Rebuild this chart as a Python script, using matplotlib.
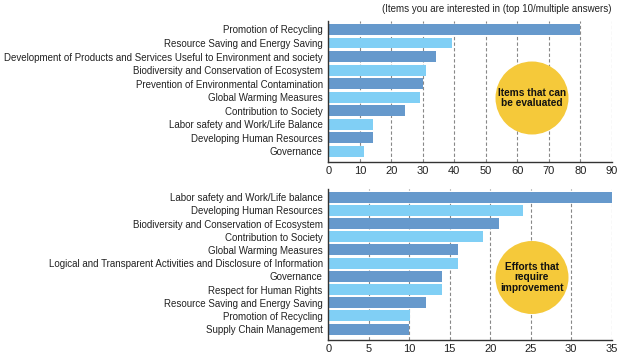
import matplotlib
matplotlib.use("Agg")
import matplotlib.pyplot as plt
from matplotlib.patches import Ellipse
from matplotlib import font_manager

names = {f.name for f in font_manager.fontManager.ttflist}
NARROW = 'Liberation Sans Narrow' in names
FAM = ['Liberation Sans Narrow', 'Liberation Sans', 'DejaVu Sans'] if NARROW else ['Liberation Sans', 'DejaVu Sans']
plt.rcParams['font.family'] = FAM
LBL = 8.7 if NARROW else 7.0

top_labels = [
    "Promotion of Recycling",
    "Resource Saving and Energy Saving",
    "Development of Products and Services Useful to Environment and society",
    "Biodiversity and Conservation of Ecosystem",
    "Prevention of Environmental Contamination",
    "Global Warming Measures",
    "Contribution to Society",
    "Labor safety and Work/Life Balance",
    "Developing Human Resources",
    "Governance",
]
top_values = [80, 39.2, 34.1, 31.0, 30.0, 29.1, 24.4, 14.1, 14.1, 11.2]
top_ticks = [0, 10, 20, 30, 40, 50, 60, 70, 80, 90]

bot_labels = [
    "Labor safety and Work/Life balance",
    "Developing Human Resources",
    "Biodiversity and Conservation of Ecosystem",
    "Contribution to Society",
    "Global Warming Measures",
    "Logical and Transparent Activities and Disclosure of Information",
    "Governance",
    "Respect for Human Rights",
    "Resource Saving and Energy Saving",
    "Promotion of Recycling",
    "Supply Chain Management",
]
bot_values = [35, 24.0, 21.1, 19.1, 16.0, 16.0, 14.0, 14.0, 12.1, 10.1, 10.0]
bot_ticks = [0, 5, 10, 15, 20, 25, 30, 35]

DARK = "#6699CC"
LIGHT = "#80CFF5"
YELLOW = "#F5C93A"

W, H = 620, 354
fig = plt.figure(figsize=(W / 100, H / 100), dpi=100)

def px_axes(x0, y0, x1, y1):
    return fig.add_axes([x0 / W, 1 - y1 / H, (x1 - x0) / W, (y1 - y0) / H])

def draw(ax, labels, values, ticks, ylim, bh):
    n = len(labels)
    colors = [DARK if i % 2 == 0 else LIGHT for i in range(n)]
    ax.barh(range(n), values, height=bh, color=colors, zorder=3)
    ax.set_ylim(*ylim)
    ax.set_xlim(ticks[0], ticks[-1])
    ax.set_xticks(ticks)
    ax.set_yticks(range(n))
    ax.set_yticklabels(labels, fontsize=LBL, color="#222222")
    ax.tick_params(axis='both', length=0, pad=4)
    ax.tick_params(axis='x', labelsize=LBL + 1.0, colors="#222222", pad=3)
    ax.xaxis.grid(True, linestyle=(0, (3, 2)), color="#888888", linewidth=0.8, zorder=0)
    for s in ['top', 'right']:
        ax.spines[s].set_visible(False)
    for s in ['left', 'bottom']:
        ax.spines[s].set_color("#333333")
        ax.spines[s].set_linewidth(1.0)
        ax.spines[s].set_zorder(4)

ax1 = px_axes(328.3, 20.7, 611.7, 162.3)
draw(ax1, top_labels, top_values, top_ticks, (9.82, -0.65), 0.81)

ax2 = px_axes(328.3, 189.3, 611.7, 340.0)
draw(ax2, bot_labels, bot_values, bot_ticks, (10.83, -0.6), 0.83)

fig.text(611.7 / W, 1 - 8.5 / H, "(Items you are interested in (top 10/multiple answers)",
         ha='right', va='center', fontsize=LBL, color="#222222")

for cx, cy, txt in [(532, 98, "Items that can\nbe evaluated"),
                    (532, 277.5, "Efforts that\nrequire\nimprovement")]:
    e = Ellipse((cx / W, 1 - cy / H), 73 / W, 73 / H, transform=fig.transFigure,
                facecolor=YELLOW, edgecolor='none', zorder=10)
    fig.patches.append(e)
    fig.text(cx / W, 1 - cy / H, txt, ha='center', va='center', fontsize=LBL + 0.3,
             fontweight='bold', color="#111111", linespacing=1.1, zorder=11)

fig.savefig("out.png", dpi=100)
